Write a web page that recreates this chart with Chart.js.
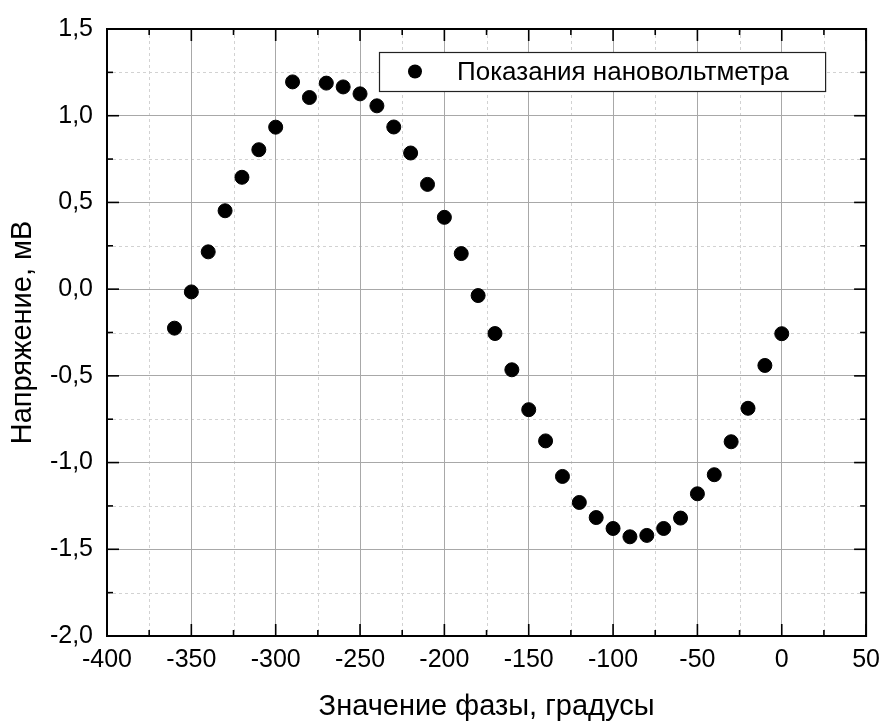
<!DOCTYPE html>
<html><head><meta charset="utf-8">
<script src="https://cdn.jsdelivr.net/npm/chart.js@4.4.0/dist/chart.umd.min.js"></script>
<style>html,body{margin:0;padding:0;background:#fff;}</style>
</head><body>
<canvas id="c" width="889" height="724" style="display:block;width:889px;height:724px"></canvas>
<script>
const phaseDeg = [-360,-350,-340,-330,-320,-310,-300,-290,-280,-270,-260,-250,-240,-230,-220,-210,-200,-190,-180,-170,-160,-150,-140,-130,-120,-110,-100,-90,-80,-70,-60,-50,-40,-30,-20,-10,0];
const voltage = [-0.225,-0.016,0.215,0.452,0.645,0.804,0.934,1.195,1.105,1.188,1.166,1.126,1.057,0.935,0.785,0.604,0.414,0.205,-0.037,-0.256,-0.465,-0.695,-0.875,-1.08,-1.23,-1.317,-1.38,-1.428,-1.42,-1.38,-1.32,-1.18,-1.07,-0.88,-0.687,-0.44,-0.257];
const seriesLabel = 'Показания нановольтметра';
const xTitle = 'Значение фазы, градусы';
const yTitle = 'Напряжение, мВ';
const xMajorTicks = [-400,-350,-300,-250,-200,-150,-100,-50,0,50];
const xMinorTicks = [-375,-325,-275,-225,-175,-125,-75,-25,25];
const yMajorTicks = [-2.0,-1.5,-1.0,-0.5,0.0,0.5,1.0,1.5];
const yMinorTicks = [-1.75,-1.25,-0.75,-0.25,0.25,0.75,1.25];

const FONT = "'Liberation Sans', Arial, sans-serif";

const framePlugin = {
  id: 'frame',
  beforeDraw(chart) {
    const {ctx, chartArea: a, scales: {x, y}} = chart;
    ctx.save();
    ctx.strokeStyle = '#d2d2d2';
    ctx.lineWidth = 1;
    ctx.setLineDash([3, 3]);
    xMinorTicks.forEach(v => {
      const px = Math.round(x.getPixelForValue(v)) + 0.5;
      ctx.beginPath(); ctx.moveTo(px, a.top); ctx.lineTo(px, a.bottom); ctx.stroke();
    });
    yMinorTicks.forEach(v => {
      const py = Math.round(y.getPixelForValue(v)) + 0.5;
      ctx.beginPath(); ctx.moveTo(a.left, py); ctx.lineTo(a.right, py); ctx.stroke();
    });
    ctx.restore();
  },
  beforeDatasetsDraw(chart) {
    const {ctx, chartArea: a, scales: {x, y}} = chart;
    ctx.save();
    ctx.strokeStyle = '#000';
    ctx.lineWidth = 1.6;
    const tick = (vals, len, horiz) => {
      vals.forEach(v => {
        if (horiz) {
          const px = x.getPixelForValue(v);
          ctx.beginPath(); ctx.moveTo(px, a.bottom); ctx.lineTo(px, a.bottom - len); ctx.stroke();
          ctx.beginPath(); ctx.moveTo(px, a.top); ctx.lineTo(px, a.top + len); ctx.stroke();
        } else {
          const py = y.getPixelForValue(v);
          ctx.beginPath(); ctx.moveTo(a.left, py); ctx.lineTo(a.left + len, py); ctx.stroke();
          ctx.beginPath(); ctx.moveTo(a.right, py); ctx.lineTo(a.right - len, py); ctx.stroke();
        }
      });
    };
    tick(xMajorTicks, 12, true);
    tick(xMinorTicks, 6, true);
    tick(yMajorTicks, 12, false);
    tick(yMinorTicks, 6, false);
    ctx.lineWidth = 2;
    ctx.strokeRect(a.left, a.top, a.right - a.left, a.bottom - a.top);
    ctx.restore();
  },
  afterDraw(chart) {
    const {ctx, chartArea: a} = chart;
    const label = chart.data.datasets[0].label;
    ctx.save();
    ctx.font = '26px ' + FONT;
    const tw = ctx.measureText(label).width;
    const right = a.right - 41;
    const top = a.top + 23;
    const h = 39;
    const left = Math.min(a.left + 272, right - (78 + tw + 7));
    ctx.fillStyle = '#fff';
    ctx.fillRect(left, top, right - left, h);
    ctx.strokeStyle = '#222';
    ctx.lineWidth = 1.2;
    ctx.strokeRect(left + 0.5, top + 0.5, right - left, h);
    ctx.fillStyle = '#000';
    ctx.beginPath(); ctx.arc(left + 36, top + h / 2, 7, 0, Math.PI * 2); ctx.fill();
    ctx.textBaseline = 'middle';
    ctx.textAlign = 'left';
    ctx.fillText(label, left + 78, top + h / 2 + 1);
    ctx.restore();
  }
};

new Chart(document.getElementById('c'), {
  type: 'scatter',
  data: {
    datasets: [{
      label: seriesLabel,
      data: phaseDeg.map((p, i) => ({x: p, y: voltage[i]})),
      backgroundColor: '#000',
      borderColor: '#000',
      pointRadius: 7,
      pointHoverRadius: 7,
      showLine: false
    }]
  },
  options: {
    responsive: false,
    animation: false,
    devicePixelRatio: 1,
    layout: {padding: {top: 28, right: 15, left: 0, bottom: 0}},
    plugins: {legend: {display: false}, tooltip: {enabled: false}},
    scales: {
      x: {
        type: 'linear', min: -400, max: 50,
        afterBuildTicks: s => { s.ticks = xMajorTicks.map(v => ({value: v})); },
        afterFit: s => { s.height = 88; },
        grid: {color: '#a8a8a8', lineWidth: 1, drawTicks: false},
        border: {display: false},
        ticks: {color: '#000', padding: 9, maxRotation: 0, autoSkip: false,
          font: {family: FONT, size: 25},
          callback: v => String(v)},
        title: {display: true, text: xTitle, color: '#000', font: {family: FONT, size: 29}, padding: {top: 0, bottom: 0}}
      },
      y: {
        type: 'linear', min: -2.0, max: 1.5,
        afterBuildTicks: s => { s.ticks = yMajorTicks.map(v => ({value: v})); },
        afterFit: s => { s.width = 107; },
        grid: {color: '#a8a8a8', lineWidth: 1, drawTicks: false},
        border: {display: false},
        ticks: {color: '#000', padding: 14, autoSkip: false,
          font: {family: FONT, size: 25},
          callback: v => Number(v).toFixed(1).replace('.', ',')},
        title: {display: true, text: yTitle, color: '#000', font: {family: FONT, size: 29}, padding: {top: 6, bottom: 0}}
      }
    }
  },
  plugins: [framePlugin]
});
</script>
</body></html>
